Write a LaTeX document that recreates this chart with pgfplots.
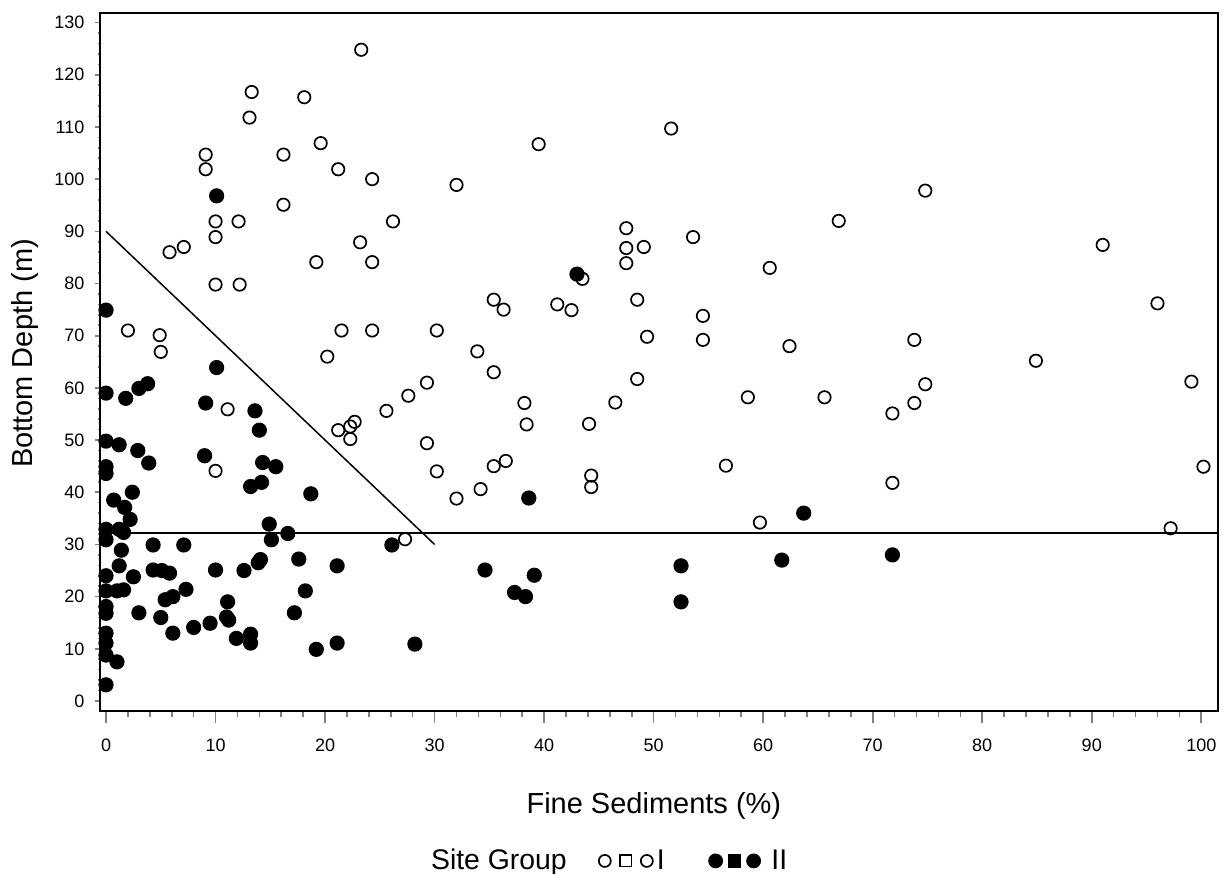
\documentclass[border=0pt]{standalone}
\usepackage{fontspec}
\setmainfont{Liberation Sans}
\usepackage{pgfplots}
\pgfplotsset{compat=1.18}

% Site group I: open symbols
\pgfplotstableread{
x y
23.3 124.8
13.3 116.7
18.1 115.7
13.1 111.8
51.6 109.7
9.1 104.7
16.2 104.7
19.6 106.9
39.5 106.7
9.1 101.9
21.2 101.9
24.3 100.0
32.0 98.9
74.8 97.8
16.2 95.1
10.0 91.9
12.1 91.9
26.2 91.9
66.9 92.0
47.5 90.6
10.0 88.9
53.6 88.9
91.0 87.4
7.1 87.0
5.8 86.0
23.2 87.9
47.5 86.8
49.1 87.0
19.2 84.1
24.3 84.1
47.5 83.9
60.6 83.0
43.5 80.9
10.0 79.8
12.2 79.8
35.4 76.9
36.3 75.0
41.2 76.0
42.5 74.9
48.5 76.9
96.0 76.2
54.5 73.8
2.0 71.0
4.9 70.1
21.5 71.0
24.3 71.0
30.2 71.0
5.0 66.9
20.2 66.0
33.9 67.0
49.4 69.8
54.5 69.2
62.4 68.0
73.8 69.2
84.9 65.2
35.4 63.0
29.3 61.0
48.5 61.7
74.8 60.7
99.1 61.2
27.6 58.5
38.2 57.1
46.5 57.2
58.6 58.2
65.6 58.2
73.8 57.1
11.1 55.9
25.6 55.6
71.8 55.1
22.7 53.5
21.2 51.9
22.3 52.6
22.3 50.2
38.4 53.0
44.1 53.1
29.3 49.4
36.5 46.0
35.4 45.0
56.6 45.1
100.2 44.9
10.0 44.1
30.2 44.0
44.3 43.2
44.3 41.0
32.0 38.8
34.2 40.6
71.8 41.8
59.7 34.2
97.2 33.1
27.3 31.0
}\groupI

% Site group II: filled symbols
\pgfplotstableread{
x y
10.1 96.8
43.0 81.8
0.0 74.9
10.1 63.9
0.0 59.0
1.8 58.0
3.0 59.9
3.8 60.8
9.1 57.1
13.6 55.6
14.0 51.9
0.0 49.8
1.2 49.1
2.9 48.0
9.0 47.0
3.9 45.6
0.0 44.9
0.0 43.6
14.3 45.7
15.5 44.9
13.2 41.1
14.2 41.9
18.7 39.7
2.4 40.0
38.6 38.9
0.7 38.5
1.7 37.1
2.2 34.8
14.9 33.9
0.0 32.9
1.2 32.9
1.6 32.3
16.6 32.1
0.0 30.9
15.1 30.9
4.3 29.9
7.1 29.9
26.1 29.9
1.4 28.9
14.1 27.1
17.6 27.2
13.9 26.5
1.2 25.9
21.1 25.9
4.3 25.1
5.1 25.0
5.8 24.5
10.0 25.1
12.6 25.0
0.0 24.0
2.5 23.8
0.0 21.1
1.0 21.1
1.6 21.3
7.3 21.4
18.2 21.1
5.4 19.4
6.1 20.0
11.1 19.0
0.0 18.1
0.0 16.8
3.0 16.9
17.2 16.9
5.0 16.0
11.0 16.1
11.2 15.5
9.5 14.9
8.0 14.1
6.1 13.0
0.0 13.0
0.0 11.1
11.9 12.0
13.2 12.8
13.2 11.1
0.0 8.8
1.0 7.5
19.2 9.9
21.1 11.1
28.2 10.9
0.0 3.1
34.6 25.1
37.3 20.8
38.3 20.0
39.1 24.1
52.5 25.9
52.5 19.0
61.7 27.0
63.7 36.0
71.8 28.0
}\groupII

\begin{document}
\begin{tikzpicture}
% page area, 0.5pt per pixel; the axis frame's lower left corner is the origin
\path[use as bounding box] (-50pt,-81.15pt) rectangle (565.5pt,355.35pt);
\begin{axis}[
  at={(0pt,0pt)}, anchor=south west,
  scale only axis, width=558.85pt, height=349pt,
  xmin=-0.55, xmax=101.5, ymin=-1.86, ymax=131.9,
  axis line style={line width=1pt},
  tick align=outside,
  xtick pos=left, ytick pos=left,
  xtick={0,10,...,100}, ytick={0,10,...,130},
  minor x tick num=4, minor y tick num=4,
  x tick style={line width=0.8pt, /pgfplots/major tick length=6pt, /pgfplots/minor tick length=3.2pt},
  y tick style={line width=0.8pt, /pgfplots/major tick length=2.5pt, /pgfplots/minor tick length=0.8pt},
  /pgf/number format/assume math mode=true,
  tick label style={font=\fontsize{9}{10}\selectfont},
  xticklabel style={anchor=base, yshift=-16pt},
  yticklabel style={anchor=east},
  label style={font=\fontsize{14.5}{17}\selectfont},
  xlabel={Fine Sediments (\%)},
  ylabel={Bottom Depth (m)},
  xlabel style={at={(axis description cs:0.5,0)}, anchor=base, yshift=-51.3pt, xshift=-2.5pt},
  ylabel style={at={(axis description cs:-0.0606,0.5117)}, anchor=base},
  legend style={draw=none, fill=none, legend columns=-1,
    at={(axis description cs:0.2869,-0.2152)}, anchor=west,
    font=\fontsize{14.2}{16}\selectfont,
    /tikz/every even column/.append style={column sep=14pt}},
]
% reference lines
\addplot[line width=0.75pt, forget plot] coordinates {(0,90) (30,30)};
\addplot[line width=0.75pt, forget plot] coordinates {(-0.55,32.2) (101.5,32.2)};

\addlegendimage{empty legend}
\addlegendentry{Site Group}

\addplot[only marks, mark=o, mark size=3.1pt, mark options={line width=0.85pt, draw=black},
  legend image code/.code={
    \draw[black, line width=0.8pt] plot[only marks, mark=o, mark size=3.0pt] coordinates {(0pt,0pt)};
    \draw[black, line width=0.8pt] plot[only marks, mark=square, mark size=2.8pt] coordinates {(10.5pt,0pt)};
    \draw[black, line width=0.8pt] plot[only marks, mark=o, mark size=3.0pt] coordinates {(21pt,0pt)};
  }] table[x=x, y=y] {\groupI};
\addlegendentry{\makebox[10pt][l]{I}}

\addplot[only marks, mark=*, mark size=3.5pt, mark options={line width=0.6pt, draw=black, fill=black},
  legend image code/.code={
    \draw[black, fill=black, line width=0.6pt] plot[only marks, mark=*, mark size=3.4pt] coordinates {(0pt,0pt)};
    \draw[black, fill=black, line width=0.6pt] plot[only marks, mark=square*, mark size=3.0pt] coordinates {(9.5pt,0pt)};
    \draw[black, fill=black, line width=0.6pt] plot[only marks, mark=*, mark size=3.4pt] coordinates {(19pt,0pt)};
  }] table[x=x, y=y] {\groupII};
\addlegendentry{\hspace{3.5pt}II}
\end{axis}
\end{tikzpicture}
\end{document}
